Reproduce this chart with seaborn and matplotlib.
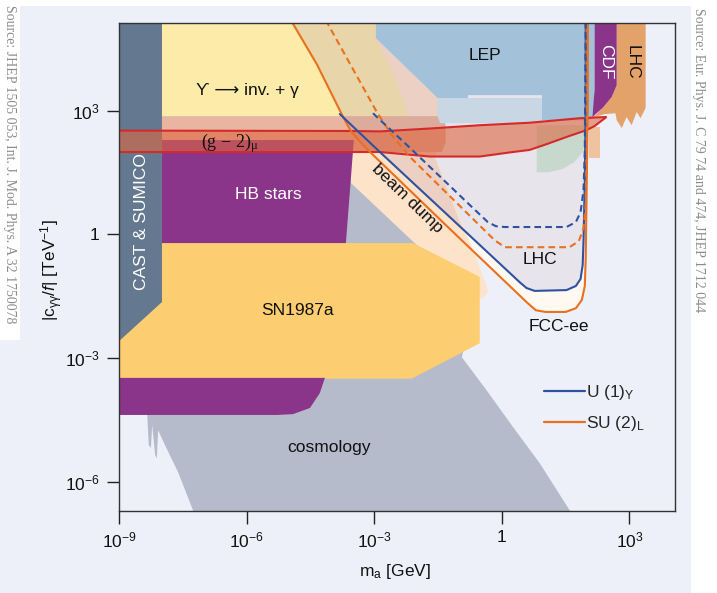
import numpy as np
import matplotlib
matplotlib.use("Agg")
import matplotlib.pyplot as plt
from matplotlib import font_manager
from matplotlib.patches import Rectangle
from matplotlib.lines import Line2D
from matplotlib.ticker import FixedLocator, FixedFormatter, NullLocator
import seaborn as sns

sns.set_theme(style="white")
installed = {f.name for f in font_manager.fontManager.ttflist}
SANS = "Liberation Sans Narrow" if "Liberation Sans Narrow" in installed else "Liberation Sans"
plt.rcParams["font.family"] = [SANS, "DejaVu Sans"]
plt.rcParams["mathtext.fontset"] = "custom"
plt.rcParams["mathtext.rm"] = SANS
plt.rcParams["mathtext.it"] = SANS + ":italic"
plt.rcParams["mathtext.bf"] = SANS + ":bold"
plt.rcParams["mathtext.default"] = "regular"

# All shapes: (log10 m_a [GeV], log10 |c_gg/f| [TeV^-1])
cast_m = [-9.0, -7.99, -7.99, -9.0]
cast_c = [5.2, 5.2, -1.64, -2.59]

ups_m = [-7.99, -4.96, -4.35, -3.79, -3.74, -7.99]
ups_c = [5.2, 5.2, 4.13, 2.97, 2.87, 2.87]

ups_bd_m = [-4.96, -2.96, -2.96, -2.59, -2.28, -2.21, -3.74, -3.79, -4.35]
ups_bd_c = [5.2, 5.2, 4.76, 3.99, 3.14, 2.87, 2.87, 2.97, 4.13]

bd_reach_m = [-3.81, -2.92, -0.92, -1.58, -1.39, -1.39, -1.51, -2.96, -2.96, -4.04]
bd_reach_c = [2.92, 2.05, 0.13, 1.88, 2.41, 2.77, 3.31, 4.76, 5.2, 5.2]

bd_m = [-3.55, -3.55, -2.05, -0.57, -0.43, -0.33, -0.38, -0.99, -1.58, -1.46, -1.46, -3.69]
bd_c = [2.29, 1.25, -0.21, -1.57, -1.54, -1.37, -1.18, 0.42, 1.88, 2.53, 2.87, 2.87]

strip_l_m = [-7.99, -3.74, -3.67, -3.53, -3.34, -3.17, -3.17, -7.99]
strip_l_c = [2.87, 2.87, 2.73, 2.48, 2.26, 2.07, 2.00, 2.00]
strip_r_m = [-3.74, -1.39, -1.32, -1.32, -1.41, -3.17, -3.17, -3.34, -3.53, -3.67]
strip_r_c = [2.87, 2.87, 2.65, 2.24, 2.00, 2.00, 2.07, 2.26, 2.48, 2.73]

hb_m = [-7.99, -3.48, -3.67, -7.99]
hb_c = [2.29, 2.29, -0.26, -0.26]

sn_m = [-9.0, -2.09, -0.52, -0.52, -2.12, -9.0]
sn_c = [-0.21, -0.21, -1.03, -2.64, -3.50, -3.50]

low_m = [-9.0, -4.16, -4.28, -4.51, -4.91, -5.29, -9.0]
low_c = [-3.48, -3.48, -3.85, -4.21, -4.36, -4.38, -4.38]

cosmo_m = [-7.22, 1.66, 0.89, 0.26, -0.36, -0.94, -0.75, -1.93, -3.53, -4.04,
           -5.92, -8.34, -8.30, -8.25, -8.22, -8.15, -8.11, -8.08, -7.92, -7.61]
cosmo_c = [-6.8, -6.8, -5.55, -4.67, -3.78, -2.98, -2.08, -0.26, 1.44, 1.44,
           -1.59, -4.31, -5.11, -5.18, -4.63, -5.35, -5.43, -4.75, -5.11, -5.77]

lep_m = [-2.96, 2.18, 2.18, 1.99, 0.94, 0.94, -0.80, -0.80, -1.51, -2.96]
lep_c = [5.2, 5.2, 2.82, 2.77, 2.77, 3.38, 3.38, 3.31, 3.31, 4.76]

lep2_m = [-1.51, 0.94, 0.94, -1.45, -1.51]
lep2_c = [3.31, 3.31, 2.70, 2.70, 2.85]

zg_m = [0.82, 1.99, 1.99, 1.90, 1.71, 1.43, 1.12, 0.82]
zg_c = [2.65, 2.65, 2.29, 2.00, 1.76, 1.59, 1.51, 1.51]

cdf_m = [2.18, 2.70, 2.70, 2.58, 2.37, 2.13, 2.16, 2.18]
cdf_c = [5.2, 5.2, 3.62, 3.33, 3.07, 2.85, 3.26, 3.50]

lhc_m = [2.70, 3.38, 3.38, 3.26, 3.17, 3.05, 2.93, 2.82, 2.70, 2.67, 2.42, 2.16, 2.37, 2.58, 2.70]
lhc_c = [5.2, 5.2, 3.07, 2.82, 2.97, 2.65, 2.85, 2.58, 2.77, 2.94, 2.92, 2.85, 3.07, 3.33, 3.62]

lhc_low_m = [2.06, 2.30, 2.30, 2.06]
lhc_low_c = [2.60, 2.60, 1.85, 1.85]

gm2_m = [-9.3, -3.57, -2.87, -1.69, -0.52, 0.65, 1.83, 2.46,
         2.18, 1.99, 1.59, 1.05, 0.65, 0.26, -0.52, -1.69, -2.87, -3.57, -9.3]
gm2_c = [2.52, 2.51, 2.50, 2.57, 2.65, 2.71, 2.82, 2.85,
         2.63, 2.53, 2.39, 2.19, 2.05, 2.00, 1.89, 1.89, 2.00, 2.00, 2.00]

# Projected reach, SU(2)_L (orange) and U(1)_Y (blue); solid: FCC-ee, dashed: LHC
su2_m = [-4.96, -4.35, -3.79, -3.67, -3.53, -3.34, -3.17, -1.27, 0.61, 0.80, 1.03,
         1.50, 1.74, 1.88, 1.95, 1.97, 1.99, 2.02, 2.02]
su2_c = [5.2, 4.13, 2.97, 2.73, 2.48, 2.26, 2.07, 0.18, -1.67, -1.84, -1.88,
         -1.88, -1.79, -1.59, -1.25, -0.62, 0.83, 3.26, 5.2]
u1_m = [-3.81, -2.92, -0.92, 0.42, 0.58, 0.77, 1.52, 1.74, 1.85, 1.90, 1.92, 1.95, 1.97, 1.97]
u1_c = [2.92, 2.05, 0.13, -1.16, -1.30, -1.37, -1.35, -1.25, -1.08, -0.74, -0.14, 1.32, 3.26, 5.2]
su2_lhc_m = [-4.14, -2.94, -2.59, -2.16, -0.17, 0.07, 1.59, 1.81, 1.92, 1.97, 1.99, 1.99]
su2_lhc_c = [5.2, 2.97, 2.41, 1.88, -0.14, -0.31, -0.31, -0.16, 0.15, 0.71, 2.05, 5.2]
u1_lhc_m = [-3.03, -2.16, -0.75, -0.33, -0.14, 0.07, 1.52, 1.74, 1.85, 1.92, 1.95, 1.97]
u1_lhc_c = [2.94, 2.10, 0.71, 0.30, 0.20, 0.18, 0.18, 0.30, 0.54, 1.08, 2.05, 5.2]

BG = "#edf0f8"
fig = plt.figure(figsize=(7.17, 5.93), dpi=100, facecolor=BG)
ax = fig.add_axes([119 / 717, 82 / 593, 556 / 717, 488 / 593])
ax.set_facecolor(BG)
ax.set_xscale("log")
ax.set_yscale("log")


def region(m, c, color, z, **kw):
    ax.fill(10 ** np.asarray(m), 10 ** np.asarray(c), facecolor=color,
            edgecolor="none", lw=0, zorder=z, **kw)


region(cosmo_m, cosmo_c, "#b6bbcb", 1)
region(su2_m + [-4.96], su2_c + [5.2], "#fff9f1", 2)
region(u1_m + [-3.81], u1_c + [5.2], "#e7e4eb", 2.5)
region(bd_m, bd_c, "#fde3ca", 3)
region(bd_reach_m, bd_reach_c, "#ebd0c3", 3.5)
region(ups_m, ups_c, "#fdeba9", 4)
region(ups_bd_m, ups_bd_c, "#e8d5a9", 4)
region(strip_l_m, strip_l_c, "#e9b5a1", 4.5)
region(strip_r_m, strip_r_c, "#dcab9b", 4.5)
region(lep_m, lep_c, "#a3c1d9", 4.5)
region(lep2_m, lep2_c, "#c9d6e4", 4.5)
region(zg_m, zg_c, "#c7d9cd", 4.5)
region(lhc_low_m, lhc_low_c, "#efc39f", 4.5)
region(hb_m, hb_c, "#8a3589", 5)
region(sn_m, sn_c, "#fdcd72", 5)
region(low_m, low_c, "#8a3589", 5.5)
region(cast_m, cast_c, "#64788f", 5.5)
region(cdf_m, cdf_c, "#8a3589", 5.5)
region(lhc_m, lhc_c, "#e4a26b", 5.4)

# (g-2)_mu preferred band
ax.fill(10 ** np.asarray(gm2_m), 10 ** np.asarray(gm2_c),
        facecolor=(0.87, 0.40, 0.25, 0.6), edgecolor="#d42a2a", lw=1.5, zorder=6)

BLUE, ORANGE = "#2f52a0", "#e8701e"
dash = (0, (3.2, 2.0))
for m, c, col, ls in [(su2_m, su2_c, ORANGE, "-"), (u1_m, u1_c, BLUE, "-"),
                      (su2_lhc_m, su2_lhc_c, ORANGE, dash), (u1_lhc_m, u1_lhc_c, BLUE, dash)]:
    sns.lineplot(x=10 ** np.asarray(m), y=10 ** np.asarray(c), sort=False, estimator=None,
                 color=col, lw=1.5, linestyle=ls, ax=ax, zorder=7)

ax.set_xlim(1e-9, 10 ** 4.07)
ax.set_ylim(10 ** -6.71, 10 ** 5.13)

xt = [1e-9, 1e-6, 1e-3, 1, 1e3]
yt = [1e-6, 1e-3, 1, 1e3]
ax.xaxis.set_major_locator(FixedLocator(xt))
ax.xaxis.set_major_formatter(FixedFormatter(["$10^{-9}$", "$10^{-6}$", "$10^{-3}$", "1", "$10^{3}$"]))
ax.yaxis.set_major_locator(FixedLocator(yt))
ax.yaxis.set_major_formatter(FixedFormatter(["$10^{-6}$", "$10^{-3}$", "1", "$10^{3}$"]))
ax.xaxis.set_minor_locator(NullLocator())
ax.yaxis.set_minor_locator(NullLocator())
ax.tick_params(axis="both", which="major", direction="out", length=9, width=1,
               color="#222222", labelsize=12.5, labelcolor="#111111", pad=5,
               bottom=True, left=True)
for s in ax.spines.values():
    s.set_color("#333333")
    s.set_linewidth(1.0)
    s.set_zorder(10)

ax.set_xlabel("m$_a$ [GeV]", fontsize=12.5, color="#111111")
ax.set_ylabel("|c$_{γγ}$/$\\mathit{f}$| [TeV$^{-1}$]", fontsize=12.5, color="#111111")
ax.xaxis.set_label_coords(0.496, -0.104)
ax.yaxis.set_label_coords(-0.097, 0.494)


def label(m, c, s, color="#111111", size=12.5, **kw):
    ax.text(10 ** m, 10 ** c, s, color=color, fontsize=size, ha="center", va="center",
            zorder=9, **kw)


label(-0.40, 4.35, "LEP")
label(-5.99, 3.50, "ϒ ⟶ inv. + γ", family=[SANS, "DejaVu Sans"])
label(-6.39, 2.22, "(g − 2)$_μ$", family=["Liberation Serif", "DejaVu Serif"], size=13)
label(-5.50, 0.98, "HB stars", color="white")
label(-8.46, 0.32, "CAST & SUMICO", color="white", rotation=90)
label(-2.23, 0.86, "beam dump", rotation=-44, rotation_mode="anchor")
label(-4.80, -1.84, "SN1987a")
label(-4.07, -5.16, "cosmology")
label(0.89, -0.60, "LHC")
label(1.34, -2.23, "FCC-ee")
label(2.44, 4.18, "CDF", color="white", rotation=-90)
label(3.07, 4.18, "LHC", rotation=-90)

handles = [Line2D([], [], color=BLUE, lw=1.6), Line2D([], [], color=ORANGE, lw=1.6)]
ax.legend(handles, ["U (1)$_Y$", "SU (2)$_L$"], loc="upper left",
          bbox_to_anchor=(0.764, 0.263), frameon=False, fontsize=12.5,
          handlelength=2.4, handletextpad=0.05, labelspacing=0.7,
          borderaxespad=0, borderpad=0)

# page margins carrying the source notes
for x0, y0, w, h in [(0, 587, 717, 6), (0, 253, 20, 340), (691, 0, 26, 593)]:
    fig.add_artist(Rectangle((x0 / 717, y0 / 593), w / 717, h / 593, transform=fig.transFigure,
                             facecolor="white", edgecolor="none", zorder=-1))
SERIF = ["Liberation Serif", "DejaVu Serif"]
fig.text(9 / 717, 1 - 5 / 593,
         "Source: JHEP 1505 053, Int. J. Mod. Phys. A 32 1750078",
         rotation=-90, ha="center", va="top", fontsize=10, color="#8c8c8c", family=SERIF)
fig.text(698 / 717, 1 - 8 / 593,
         "Source: Eur. Phys. J. C 79 74 and 474, JHEP 1712 044",
         rotation=-90, ha="center", va="top", fontsize=10, color="#8c8c8c", family=SERIF)

fig.savefig("out.png", dpi=100, facecolor=BG)
